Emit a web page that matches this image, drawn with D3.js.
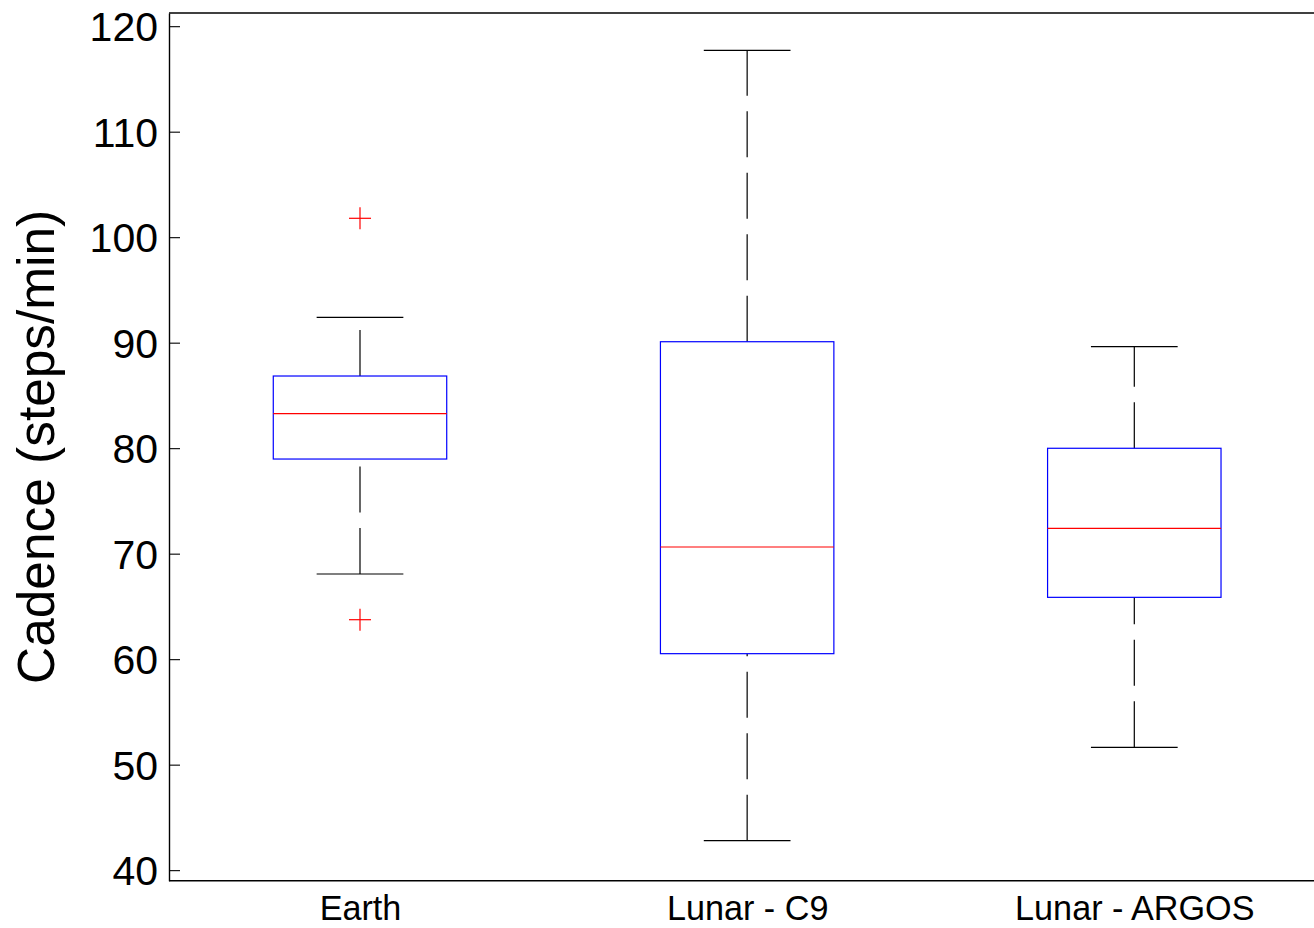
<!DOCTYPE html>
<html>
<head>
<meta charset="utf-8">
<script src="https://cdn.jsdelivr.net/npm/d3@7"></script>
<style>
  body { margin: 0; background: #fff; }
  svg { display: block; font-family: "Liberation Sans", Arial, sans-serif; }
</style>
</head>
<body>
<div id="chart"></div>
<script>
// box plot values
const categories = ["Earth", "Lunar - C9", "Lunar - ARGOS"];
const lowerWhisker = [68.07, 42.79, 51.64];
const q1 = [78.97, 60.52, 65.86];
const median = [83.27, 70.63, 72.40];
const q3 = [86.84, 90.09, 79.99];
const upperWhisker = [92.40, 117.71, 89.62];
const outliers = [[101.79, 63.74], [], []];
const yTicks = [40, 50, 60, 70, 80, 90, 100, 110, 120];

function boxPlot() {
    var w = 1314, h = 928;
    var left = 169, top = 13, bottom = 880.7;

    var svg = d3.select("#chart").append("svg")
        .attr("width", w)
        .attr("height", h);

    var xScale = d3.scaleLinear() // group index -> pixel
        .domain([1, 3])
        .range([360, 1134.3]);

    var yScale = d3.scaleLinear()
        .domain([39, 121.25])
        .range([bottom, top]);

    var unit = xScale(2) - xScale(1);
    var boxHalf = 0.224 * unit;
    var capHalf = 0.112 * unit;

    var groups = categories.map(function(c, i) {
        return { name: c, idx: i + 1, lw: lowerWhisker[i], q1: q1[i], med: median[i], q3: q3[i], uw: upperWhisker[i], out: outliers[i] };
    });

    var g = svg.selectAll("g.box")
        .data(groups)
        .enter()
        .append("g")
        .attr("class", "box");

    // whiskers, dashes start from the lower end
    g.append("line")
        .attr("x1", d => xScale(d.idx)).attr("x2", d => xScale(d.idx))
        .attr("y1", d => yScale(d.q3)).attr("y2", d => yScale(d.uw))
        .attr("stroke", "#000").attr("stroke-width", 1.2)
        .attr("stroke-dasharray", "46,15.5");
    g.append("line")
        .attr("x1", d => xScale(d.idx)).attr("x2", d => xScale(d.idx))
        .attr("y1", d => yScale(d.lw)).attr("y2", d => yScale(d.q1))
        .attr("stroke", "#000").attr("stroke-width", 1.2)
        .attr("stroke-dasharray", "46,15.5");

    // caps
    ["lw", "uw"].forEach(function(k) {
        g.append("line")
            .attr("x1", d => xScale(d.idx) - capHalf).attr("x2", d => xScale(d.idx) + capHalf)
            .attr("y1", d => yScale(d[k])).attr("y2", d => yScale(d[k]))
            .attr("stroke", "#000").attr("stroke-width", 1.2);
    });

    // box
    g.append("rect")
        .attr("x", d => xScale(d.idx) - boxHalf)
        .attr("y", d => yScale(d.q3))
        .attr("width", 2 * boxHalf)
        .attr("height", d => yScale(d.q1) - yScale(d.q3))
        .attr("fill", "none")
        .attr("stroke", "#0000ff").attr("stroke-width", 1.2);

    // median
    g.append("line")
        .attr("x1", d => xScale(d.idx) - boxHalf).attr("x2", d => xScale(d.idx) + boxHalf)
        .attr("y1", d => yScale(d.med)).attr("y2", d => yScale(d.med))
        .attr("stroke", "#ff0000").attr("stroke-width", 1.2);

    // outliers as red +
    var pts = [];
    groups.forEach(function(d) {
        d.out.forEach(function(v) { pts.push({ idx: d.idx, v: v }); });
    });
    var p = svg.selectAll("g.outlier").data(pts).enter().append("g").attr("class", "outlier");
    p.append("line")
        .attr("x1", d => xScale(d.idx) - 11).attr("x2", d => xScale(d.idx) + 11)
        .attr("y1", d => yScale(d.v)).attr("y2", d => yScale(d.v))
        .attr("stroke", "#ff0000").attr("stroke-width", 1.2);
    p.append("line")
        .attr("x1", d => xScale(d.idx)).attr("x2", d => xScale(d.idx))
        .attr("y1", d => yScale(d.v) - 11).attr("y2", d => yScale(d.v) + 11)
        .attr("stroke", "#ff0000").attr("stroke-width", 1.2);

    // y axis, ticks pointing inward
    var yAxis = d3.axisLeft(yScale)
        .tickValues(yTicks)
        .tickSizeInner(-11)
        .tickSizeOuter(0)
        .tickPadding(11);

    var ya = svg.append("g")
        .attr("transform", "translate(" + left + ",0)")
        .call(yAxis);
    ya.select(".domain").attr("stroke", "#000").attr("stroke-width", 1.4);
    ya.selectAll(".tick line").attr("stroke", "#000").attr("stroke-width", 1.1);
    ya.selectAll(".tick text")
        .attr("font-size", "41px")
        .attr("font-family", "Liberation Sans, Arial, sans-serif")
        .attr("fill", "#000")
        .attr("dy", "0.36em");

    // x axis, labels only
    var xAxis = d3.axisBottom(xScale)
        .tickValues([1, 2, 3])
        .tickFormat(d => categories[d - 1])
        .tickSize(0)
        .tickPadding(15.3);

    var xa = svg.append("g")
        .attr("transform", "translate(0," + bottom + ")")
        .call(xAxis);
    xa.select(".domain").remove();
    xa.selectAll(".tick text")
        .attr("font-size", "34.2px")
        .attr("font-family", "Liberation Sans, Arial, sans-serif")
        .attr("fill", "#000");

    // frame lines: bottom and top
    svg.append("line")
        .attr("x1", left).attr("x2", w)
        .attr("y1", yScale.range()[0]).attr("y2", yScale.range()[0])
        .attr("stroke", "#000").attr("stroke-width", 1.4);
    svg.append("line")
        .attr("x1", left).attr("x2", w)
        .attr("y1", yScale.range()[1]).attr("y2", yScale.range()[1])
        .attr("stroke", "#000").attr("stroke-width", 1.4);

    // y label
    svg.append("text")
        .attr("transform", "translate(54," + ((top + bottom) / 2) + ") rotate(-90)")
        .attr("text-anchor", "middle")
        .attr("font-size", "51.4px")
        .attr("fill", "#000")
        .text("Cadence (steps/min)");
}

boxPlot();
</script>
</body>
</html>
